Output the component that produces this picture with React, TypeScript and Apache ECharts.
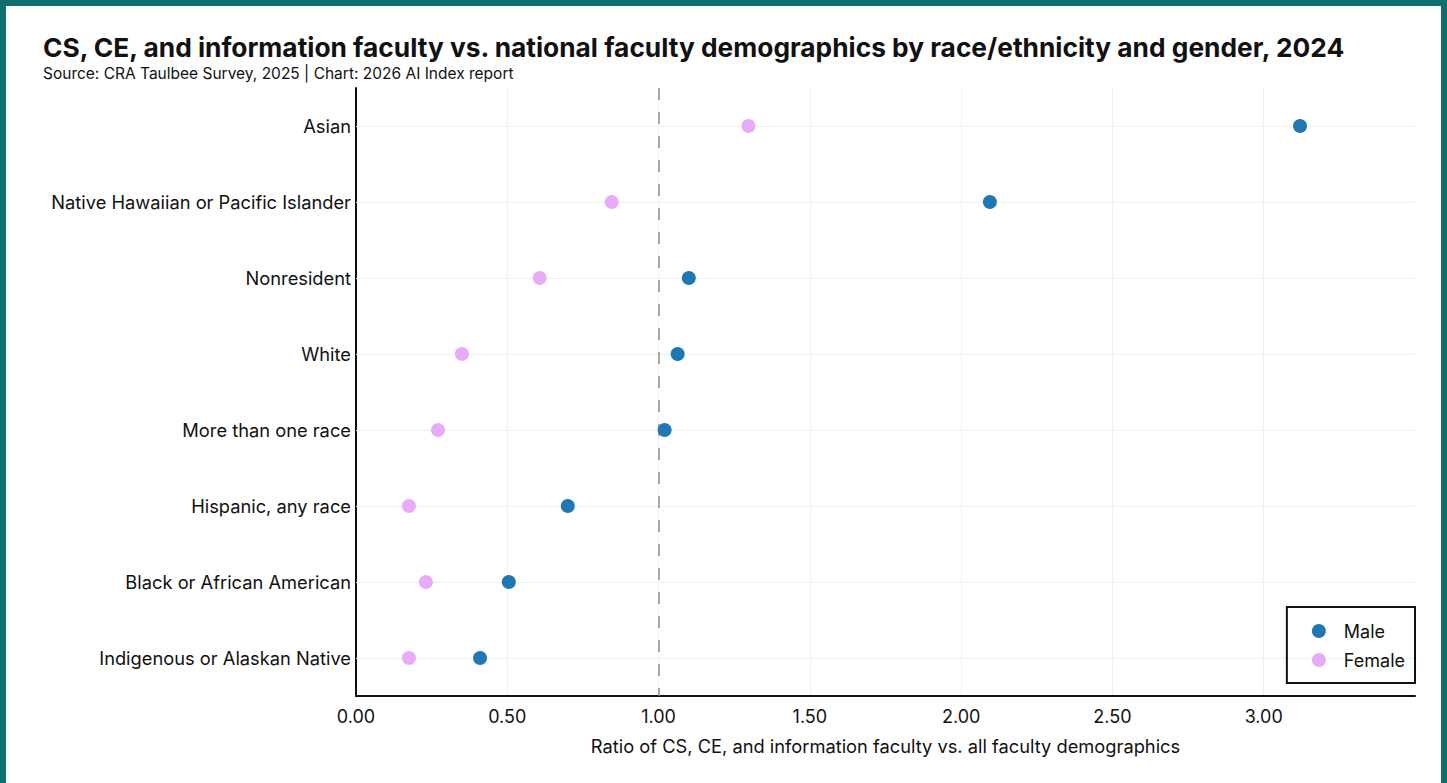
import React, { useEffect, useRef } from "react";
import * as echarts from "echarts";

const categories = [
  "Asian",
  "Native Hawaiian or Pacific Islander",
  "Nonresident",
  "White",
  "More than one race",
  "Hispanic, any race",
  "Black or African American",
  "Indigenous or Alaskan Native",
];
const maleValues = [3.12, 2.095, 1.1, 1.063, 1.02, 0.7, 0.505, 0.41];
const femaleValues = [1.297, 0.845, 0.607, 0.35, 0.271, 0.175, 0.231, 0.175];
const xTicks = [0, 0.5, 1, 1.5, 2, 2.5, 3];
const referenceValue = 1.0;

const TITLE = "CS, CE, and information faculty vs. national faculty demographics by race/ethnicity and gender, 2024";
const SUBTITLE = "Source: CRA Taulbee Survey, 2025 | Chart: 2026 AI Index report";
const FONT = "Inter, 'Noto Sans', sans-serif";

export default function App() {
  const ref = useRef<HTMLDivElement>(null);
  useEffect(() => {
    document.body.style.margin = "0";
    const chart = echarts.init(ref.current!, null, { renderer: "svg" });
    chart.setOption({
      animation: false,
      backgroundColor: "#ffffff",
      textStyle: { fontFamily: FONT, color: "#111" },
      graphic: [
        {
          type: "text",
          left: 37,
          top: 28,
          style: { text: TITLE, font: `bold 26.3px ${FONT}`, fill: "#111" },
        },
        {
          type: "text",
          left: 37,
          top: 59,
          style: { text: SUBTITLE, font: `15.5px ${FONT}`, fill: "#111" },
        },
      ],
      grid: { left: 350, right: 26, top: 82, bottom: 87 },
      legend: {
        data: ["Male", "Female"],
        orient: "vertical",
        right: 26,
        top: 601,
        icon: "circle",
        itemWidth: 14,
        itemHeight: 14,
        itemGap: 11,
        padding: [15, 10, 14, 25],
        borderColor: "#111",
        borderWidth: 2,
        borderRadius: 0,
        textStyle: { fontSize: 18, color: "#111", fontFamily: FONT, padding: [0, 0, 0, 13] },
      },
      xAxis: {
        type: "value",
        min: 0,
        max: 3.5,
        interval: 0.5,
        name: "Ratio of CS, CE, and information faculty vs. all faculty demographics",
        nameLocation: "middle",
        nameGap: 41,
        nameTextStyle: { fontSize: 18.3, color: "#111", fontFamily: FONT },
        axisLine: { show: true, lineStyle: { color: "#111", width: 2 } },
        axisTick: { show: false },
        axisLabel: {
          fontSize: 18,
          color: "#111",
          margin: 11,
          showMaxLabel: false,
          formatter: (v: number) => (xTicks.includes(v) ? v.toFixed(2) : ""),
        },
        splitLine: { show: true, showMaxLine: false, lineStyle: { color: "#f0f0f0", width: 1 } },
      },
      yAxis: {
        type: "category",
        data: categories,
        inverse: true,
        axisLine: { show: true, lineStyle: { color: "#111", width: 2 } },
        axisTick: { show: false },
        axisLabel: { fontSize: 18.3, color: "#111", margin: 5 },
        splitLine: { show: false },
      },
      series: [
        {
          name: "grid",
          type: "scatter",
          data: [],
          z: 1,
          silent: true,
          markLine: {
            z: 1,
            silent: true,
            symbol: "none",
            label: { show: false },
            animation: false,
            data: [
              ...categories.map((c) => ({
                yAxis: c,
                lineStyle: { color: "#f0f0f0", width: 1, type: "solid" },
              })),
              {
                xAxis: referenceValue,
                lineStyle: { color: "#8f8f8f", width: 1.5, type: [12, 12] },
              },
            ],
          },
        },
        {
          name: "Male",
          type: "scatter",
          z: 6,
          symbol: "circle",
          symbolSize: 14,
          itemStyle: { color: "#1f77b4", opacity: 1 },
          data: maleValues.map((v, i) => [v, categories[i]]),
        },
        {
          name: "Female",
          type: "scatter",
          z: 6,
          symbol: "circle",
          symbolSize: 14,
          itemStyle: { color: "#e8abf7", opacity: 1 },
          data: femaleValues.map((v, i) => [v, categories[i]]),
        },
      ],
    });
    return () => chart.dispose();
  }, []);
  return (
    <div style={{ position: "relative", width: 1447, height: 783, background: "#0f6f6c" }}>
      <div
        ref={ref}
        style={{ position: "absolute", left: 6, top: 6, width: 1435, height: 777, background: "#fff" }}
      />
    </div>
  );
}
